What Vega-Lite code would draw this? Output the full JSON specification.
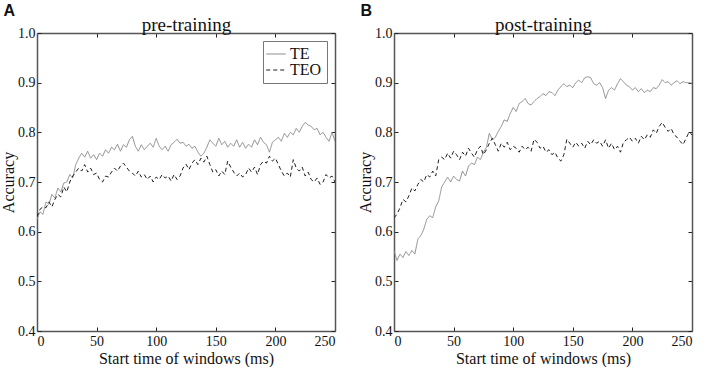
{
  "$schema": "https://vega.github.io/schema/vega-lite/v6.json",
  "padding": {"left": 0, "top": 2, "right": 5, "bottom": 1},
  "background": "white",
  "config": {
    "font": "Liberation Serif",
    "view": {"stroke": null},
    "style": {
      "guide-label": {"font": "Liberation Serif", "fontSize": 14, "fill": "#111111"},
      "guide-title": {"font": "Liberation Serif", "fontSize": 16, "fontWeight": "normal", "fill": "#111111"}
    },
    "axis": {
      "labelFont": "Liberation Serif",
      "titleFont": "Liberation Serif",
      "labelFontSize": 14,
      "titleFontSize": 16,
      "titleFontWeight": "normal",
      "labelColor": "#111111",
      "titleColor": "#111111",
      "domainColor": "#555555",
      "domainWidth": 1.5,
      "tickColor": "#222222",
      "tickSize": -4,
      "tickWidth": 1,
      "grid": false,
      "labelPadding": 7,
      "titlePadding": 2
    },
    "axisY": {"labelPadding": 6, "titlePadding": 1}
  },
  "bounds": "flush",
  "spacing": 59,
  "resolve": {
    "scale": {"color": "independent", "strokeDash": "independent"},
    "legend": {"color": "independent", "strokeDash": "independent"}
  },
  "datasets": {
    "pre": [
      {"t":0,"TE":0.625,"TEO":0.630},{"t":2.5,"TE":0.640,"TEO":0.645},{"t":5,"TE":0.635,"TEO":0.650},{"t":7.5,"TE":0.660,"TEO":0.648},{"t":10,"TE":0.655,"TEO":0.660},
      {"t":12.5,"TE":0.675,"TEO":0.650},{"t":15,"TE":0.668,"TEO":0.665},{"t":17.5,"TE":0.688,"TEO":0.675},{"t":20,"TE":0.680,"TEO":0.670},{"t":22.5,"TE":0.698,"TEO":0.690},
      {"t":25,"TE":0.700,"TEO":0.680},{"t":27.5,"TE":0.715,"TEO":0.700},{"t":30,"TE":0.708,"TEO":0.712},{"t":32.5,"TE":0.735,"TEO":0.720},{"t":35,"TE":0.748,"TEO":0.728},
      {"t":37.5,"TE":0.758,"TEO":0.722},{"t":40,"TE":0.750,"TEO":0.735},{"t":42.5,"TE":0.762,"TEO":0.720},{"t":45,"TE":0.748,"TEO":0.728},{"t":47.5,"TE":0.755,"TEO":0.715},
      {"t":50,"TE":0.745,"TEO":0.718},{"t":52.5,"TE":0.758,"TEO":0.705},{"t":55,"TE":0.752,"TEO":0.700},{"t":57.5,"TE":0.765,"TEO":0.712},{"t":60,"TE":0.758,"TEO":0.710},
      {"t":62.5,"TE":0.770,"TEO":0.720},{"t":65,"TE":0.765,"TEO":0.728},{"t":67.5,"TE":0.776,"TEO":0.722},{"t":70,"TE":0.762,"TEO":0.732},{"t":72.5,"TE":0.775,"TEO":0.738},
      {"t":75,"TE":0.770,"TEO":0.730},{"t":77.5,"TE":0.785,"TEO":0.722},{"t":80,"TE":0.792,"TEO":0.718},{"t":82.5,"TE":0.772,"TEO":0.712},{"t":85,"TE":0.762,"TEO":0.722},
      {"t":87.5,"TE":0.775,"TEO":0.710},{"t":90,"TE":0.765,"TEO":0.715},{"t":92.5,"TE":0.772,"TEO":0.705},{"t":95,"TE":0.778,"TEO":0.712},{"t":97.5,"TE":0.770,"TEO":0.700},
      {"t":100,"TE":0.788,"TEO":0.710},{"t":102.5,"TE":0.772,"TEO":0.705},{"t":105,"TE":0.765,"TEO":0.715},{"t":107.5,"TE":0.772,"TEO":0.708},{"t":110,"TE":0.762,"TEO":0.712},
      {"t":112.5,"TE":0.775,"TEO":0.702},{"t":115,"TE":0.780,"TEO":0.715},{"t":117.5,"TE":0.786,"TEO":0.705},{"t":120,"TE":0.778,"TEO":0.712},{"t":122.5,"TE":0.780,"TEO":0.728},
      {"t":125,"TE":0.772,"TEO":0.736},{"t":127.5,"TE":0.776,"TEO":0.725},{"t":130,"TE":0.768,"TEO":0.738},{"t":132.5,"TE":0.772,"TEO":0.745},{"t":135,"TE":0.760,"TEO":0.735},
      {"t":137.5,"TE":0.752,"TEO":0.748},{"t":140,"TE":0.758,"TEO":0.740},{"t":142.5,"TE":0.770,"TEO":0.752},{"t":145,"TE":0.785,"TEO":0.735},{"t":147.5,"TE":0.778,"TEO":0.720},
      {"t":150,"TE":0.772,"TEO":0.725},{"t":152.5,"TE":0.788,"TEO":0.712},{"t":155,"TE":0.775,"TEO":0.722},{"t":157.5,"TE":0.782,"TEO":0.715},{"t":160,"TE":0.770,"TEO":0.742},
      {"t":162.5,"TE":0.778,"TEO":0.730},{"t":165,"TE":0.772,"TEO":0.720},{"t":167.5,"TE":0.785,"TEO":0.712},{"t":170,"TE":0.770,"TEO":0.718},{"t":172.5,"TE":0.780,"TEO":0.710},
      {"t":175,"TE":0.768,"TEO":0.715},{"t":177.5,"TE":0.776,"TEO":0.728},{"t":180,"TE":0.770,"TEO":0.720},{"t":182.5,"TE":0.785,"TEO":0.730},{"t":185,"TE":0.775,"TEO":0.715},
      {"t":187.5,"TE":0.790,"TEO":0.735},{"t":190,"TE":0.780,"TEO":0.742},{"t":192.5,"TE":0.775,"TEO":0.738},{"t":195,"TE":0.760,"TEO":0.752},{"t":197.5,"TE":0.780,"TEO":0.742},
      {"t":200,"TE":0.785,"TEO":0.748},{"t":202.5,"TE":0.790,"TEO":0.735},{"t":205,"TE":0.782,"TEO":0.722},{"t":207.5,"TE":0.798,"TEO":0.712},{"t":210,"TE":0.790,"TEO":0.718},
      {"t":212.5,"TE":0.800,"TEO":0.710},{"t":215,"TE":0.795,"TEO":0.745},{"t":217.5,"TE":0.808,"TEO":0.728},{"t":220,"TE":0.800,"TEO":0.722},{"t":222.5,"TE":0.812,"TEO":0.730},
      {"t":225,"TE":0.820,"TEO":0.712},{"t":227.5,"TE":0.815,"TEO":0.720},{"t":230,"TE":0.812,"TEO":0.705},{"t":232.5,"TE":0.805,"TEO":0.700},{"t":235,"TE":0.808,"TEO":0.708},
      {"t":237.5,"TE":0.795,"TEO":0.695},{"t":240,"TE":0.800,"TEO":0.700},{"t":242.5,"TE":0.790,"TEO":0.715},{"t":245,"TE":0.782,"TEO":0.708},{"t":247.5,"TE":0.800,"TEO":0.712},
      {"t":250,"TE":0.782,"TEO":0.700}
    ],
    "post": [
      {"t":0,"TE":0.562,"TEO":0.628},{"t":2.5,"TE":0.542,"TEO":0.635},{"t":5,"TE":0.555,"TEO":0.648},{"t":7.5,"TE":0.548,"TEO":0.665},{"t":10,"TE":0.560,"TEO":0.660},
      {"t":12.5,"TE":0.552,"TEO":0.672},{"t":15,"TE":0.562,"TEO":0.688},{"t":17.5,"TE":0.555,"TEO":0.682},{"t":20,"TE":0.585,"TEO":0.695},{"t":22.5,"TE":0.592,"TEO":0.705},
      {"t":25,"TE":0.605,"TEO":0.700},{"t":27.5,"TE":0.625,"TEO":0.715},{"t":30,"TE":0.632,"TEO":0.710},{"t":32.5,"TE":0.628,"TEO":0.722},{"t":35,"TE":0.650,"TEO":0.712},
      {"t":37.5,"TE":0.662,"TEO":0.745},{"t":40,"TE":0.690,"TEO":0.750},{"t":42.5,"TE":0.700,"TEO":0.745},{"t":45,"TE":0.710,"TEO":0.758},{"t":47.5,"TE":0.700,"TEO":0.748},
      {"t":50,"TE":0.712,"TEO":0.762},{"t":52.5,"TE":0.705,"TEO":0.755},{"t":55,"TE":0.702,"TEO":0.745},{"t":57.5,"TE":0.722,"TEO":0.760},{"t":60,"TE":0.712,"TEO":0.752},
      {"t":62.5,"TE":0.732,"TEO":0.768},{"t":65,"TE":0.738,"TEO":0.758},{"t":67.5,"TE":0.735,"TEO":0.750},{"t":70,"TE":0.750,"TEO":0.765},{"t":72.5,"TE":0.745,"TEO":0.772},
      {"t":75,"TE":0.760,"TEO":0.755},{"t":77.5,"TE":0.770,"TEO":0.765},{"t":80,"TE":0.798,"TEO":0.778},{"t":82.5,"TE":0.785,"TEO":0.788},{"t":85,"TE":0.790,"TEO":0.775},
      {"t":87.5,"TE":0.802,"TEO":0.762},{"t":90,"TE":0.812,"TEO":0.778},{"t":92.5,"TE":0.825,"TEO":0.770},{"t":95,"TE":0.822,"TEO":0.780},{"t":97.5,"TE":0.838,"TEO":0.765},
      {"t":100,"TE":0.850,"TEO":0.772},{"t":102.5,"TE":0.842,"TEO":0.768},{"t":105,"TE":0.858,"TEO":0.760},{"t":107.5,"TE":0.862,"TEO":0.772},{"t":110,"TE":0.868,"TEO":0.765},
      {"t":112.5,"TE":0.858,"TEO":0.770},{"t":115,"TE":0.855,"TEO":0.762},{"t":117.5,"TE":0.862,"TEO":0.786},{"t":120,"TE":0.868,"TEO":0.780},{"t":122.5,"TE":0.872,"TEO":0.768},
      {"t":125,"TE":0.878,"TEO":0.772},{"t":127.5,"TE":0.874,"TEO":0.760},{"t":130,"TE":0.882,"TEO":0.765},{"t":132.5,"TE":0.880,"TEO":0.755},{"t":135,"TE":0.874,"TEO":0.760},
      {"t":137.5,"TE":0.885,"TEO":0.748},{"t":140,"TE":0.892,"TEO":0.742},{"t":142.5,"TE":0.898,"TEO":0.755},{"t":145,"TE":0.892,"TEO":0.786},{"t":147.5,"TE":0.895,"TEO":0.778},
      {"t":150,"TE":0.890,"TEO":0.770},{"t":152.5,"TE":0.900,"TEO":0.780},{"t":155,"TE":0.905,"TEO":0.772},{"t":157.5,"TE":0.900,"TEO":0.778},{"t":160,"TE":0.910,"TEO":0.768},
      {"t":162.5,"TE":0.912,"TEO":0.782},{"t":165,"TE":0.910,"TEO":0.775},{"t":167.5,"TE":0.898,"TEO":0.785},{"t":170,"TE":0.895,"TEO":0.778},{"t":172.5,"TE":0.900,"TEO":0.782},
      {"t":175,"TE":0.890,"TEO":0.772},{"t":177.5,"TE":0.868,"TEO":0.785},{"t":180,"TE":0.885,"TEO":0.768},{"t":182.5,"TE":0.890,"TEO":0.778},{"t":185,"TE":0.885,"TEO":0.765},
      {"t":187.5,"TE":0.898,"TEO":0.772},{"t":190,"TE":0.908,"TEO":0.760},{"t":192.5,"TE":0.902,"TEO":0.780},{"t":195,"TE":0.895,"TEO":0.785},{"t":197.5,"TE":0.892,"TEO":0.790},
      {"t":200,"TE":0.885,"TEO":0.782},{"t":202.5,"TE":0.890,"TEO":0.788},{"t":205,"TE":0.882,"TEO":0.778},{"t":207.5,"TE":0.888,"TEO":0.792},{"t":210,"TE":0.880,"TEO":0.785},
      {"t":212.5,"TE":0.885,"TEO":0.795},{"t":215,"TE":0.882,"TEO":0.790},{"t":217.5,"TE":0.890,"TEO":0.805},{"t":220,"TE":0.888,"TEO":0.798},{"t":222.5,"TE":0.895,"TEO":0.812},
      {"t":225,"TE":0.906,"TEO":0.820},{"t":227.5,"TE":0.900,"TEO":0.810},{"t":230,"TE":0.902,"TEO":0.802},{"t":232.5,"TE":0.895,"TEO":0.808},{"t":235,"TE":0.900,"TEO":0.795},
      {"t":237.5,"TE":0.904,"TEO":0.790},{"t":240,"TE":0.898,"TEO":0.782},{"t":242.5,"TE":0.902,"TEO":0.775},{"t":245,"TE":0.900,"TEO":0.788},{"t":247.5,"TE":0.900,"TEO":0.800},
      {"t":250,"TE":0.899,"TEO":0.795}
    ]
  },
  "hconcat": [
    {
      "width": 298,
      "height": 298,
      "title": {"text": "A", "anchor": "start", "frame": "bounds", "font": "Liberation Sans", "fontWeight": "bold", "fontSize": 16, "color": "#111111", "offset": -3, "dx": 3},
      "data": {"name": "pre"},
      "transform": [{"fold": ["TE", "TEO"], "as": ["series", "acc"]}],
      "layer": [
        {
          "mark": {"type": "line", "strokeWidth": 1, "clip": true},
          "encoding": {
            "x": {"field": "t", "type": "quantitative", "scale": {"domain": [0, 250], "nice": false}, "axis": {"title": "Start time of windows (ms)", "labelFont": "Liberation Serif", "titleFont": "Liberation Serif", "values": [0, 50, 100, 150, 200, 250]}},
            "y": {"field": "acc", "type": "quantitative", "scale": {"domain": [0.4, 1.0], "nice": false, "zero": false}, "axis": {"title": "Accuracy", "labelFont": "Liberation Serif", "titleFont": "Liberation Serif", "format": ".1f", "values": [0.4, 0.5, 0.6, 0.7, 0.8, 0.9, 1.0]}},
            "color": {"field": "series", "type": "nominal", "scale": {"domain": ["TE", "TEO"], "range": ["#8c8c8c", "#1e1e1e"]},
              "legend": {"title": null, "orient": "top-right", "offset": 8, "symbolType": "M-1.4,0H1.4", "symbolSize": 196, "symbolStrokeWidth": 1.2, "symbolFillColor": "transparent", "labelFont": "Liberation Serif", "labelFontSize": 16, "labelColor": "#111111", "strokeColor": "#777777", "fillColor": "white", "padding": 5, "rowPadding": 0, "labelOffset": 6}},
            "strokeDash": {"field": "series", "type": "nominal", "scale": {"domain": ["TE", "TEO"], "range": [[1, 0], [4, 3]]},
              "legend": {"title": null, "orient": "top-right", "offset": 8, "symbolType": "M-1.4,0H1.4", "symbolSize": 196, "symbolStrokeWidth": 1.2, "symbolFillColor": "transparent", "labelFont": "Liberation Serif", "labelFontSize": 16, "labelColor": "#111111", "strokeColor": "#777777", "fillColor": "white", "padding": 5, "rowPadding": 0, "labelOffset": 6}}
          }
        },
        {
          "mark": {"type": "line", "opacity": 0},
          "encoding": {
            "x": {"field": "t", "type": "quantitative", "scale": {"domain": [0, 250], "nice": false}, "axis": {"orient": "top", "labels": false, "title": "pre-training", "titleFont": "Liberation Serif", "titleFontSize": 19, "titlePadding": -2, "values": [0, 50, 100, 150, 200, 250]}},
            "y": {"field": "acc", "type": "quantitative", "scale": {"domain": [0.4, 1.0], "nice": false, "zero": false}, "axis": {"orient": "right", "labels": false, "title": null, "values": [0.4, 0.5, 0.6, 0.7, 0.8, 0.9, 1.0]}},
            "detail": {"field": "series"}
          }
        }
      ],
      "resolve": {"axis": {"x": "independent", "y": "independent"}}
    },
    {
      "width": 298,
      "height": 298,
      "title": {"text": "B", "anchor": "start", "frame": "bounds", "font": "Liberation Sans", "fontWeight": "bold", "fontSize": 16, "color": "#111111", "offset": -3, "dx": 3},
      "data": {"name": "post"},
      "transform": [{"fold": ["TE", "TEO"], "as": ["series", "acc"]}],
      "layer": [
        {
          "mark": {"type": "line", "strokeWidth": 1, "clip": true},
          "encoding": {
            "x": {"field": "t", "type": "quantitative", "scale": {"domain": [0, 250], "nice": false}, "axis": {"title": "Start time of windows (ms)", "labelFont": "Liberation Serif", "titleFont": "Liberation Serif", "values": [0, 50, 100, 150, 200, 250]}},
            "y": {"field": "acc", "type": "quantitative", "scale": {"domain": [0.4, 1.0], "nice": false, "zero": false}, "axis": {"title": "Accuracy", "labelFont": "Liberation Serif", "titleFont": "Liberation Serif", "format": ".1f", "values": [0.4, 0.5, 0.6, 0.7, 0.8, 0.9, 1.0]}},
            "color": {"field": "series", "type": "nominal", "scale": {"domain": ["TE", "TEO"], "range": ["#8c8c8c", "#1e1e1e"]}, "legend": null},
            "strokeDash": {"field": "series", "type": "nominal", "scale": {"domain": ["TE", "TEO"], "range": [[1, 0], [4, 3]]}, "legend": null}
          }
        },
        {
          "mark": {"type": "line", "opacity": 0},
          "encoding": {
            "x": {"field": "t", "type": "quantitative", "scale": {"domain": [0, 250], "nice": false}, "axis": {"orient": "top", "labels": false, "title": "post-training", "titleFont": "Liberation Serif", "titleFontSize": 19, "titlePadding": -2, "values": [0, 50, 100, 150, 200, 250]}},
            "y": {"field": "acc", "type": "quantitative", "scale": {"domain": [0.4, 1.0], "nice": false, "zero": false}, "axis": {"orient": "right", "labels": false, "title": null, "values": [0.4, 0.5, 0.6, 0.7, 0.8, 0.9, 1.0]}},
            "detail": {"field": "series"}
          }
        }
      ],
      "resolve": {"axis": {"x": "independent", "y": "independent"}}
    }
  ]
}
